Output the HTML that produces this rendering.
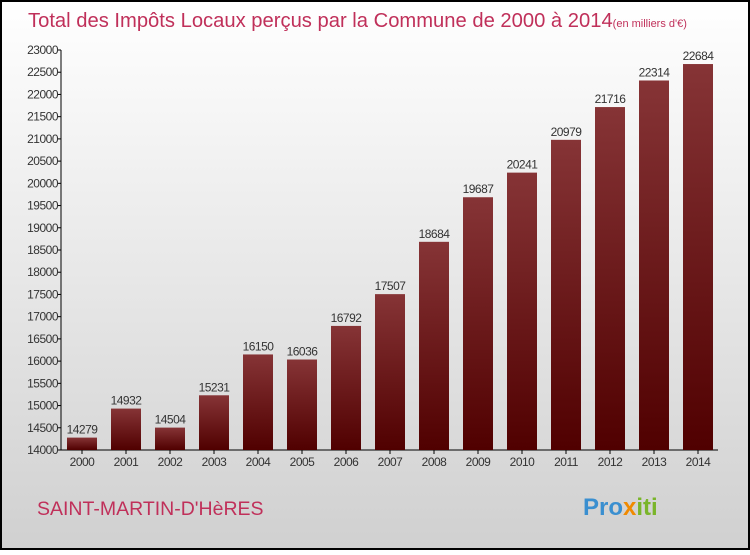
<!DOCTYPE html>
<html><head><meta charset="utf-8"><style>
html,body{margin:0;padding:0}
body{width:750px;height:550px;overflow:hidden;font-family:"Liberation Sans",sans-serif}
</style></head><body>
<svg width="750" height="550" xmlns="http://www.w3.org/2000/svg">
<defs>
<linearGradient id="bg" x1="0" y1="0" x2="0" y2="1"><stop offset="0" stop-color="#ffffff"/><stop offset="1" stop-color="#d0d0d0"/></linearGradient>
<linearGradient id="bar" x1="0" y1="0" x2="0" y2="1"><stop offset="0" stop-color="#863436"/><stop offset="1" stop-color="#500000"/></linearGradient>
</defs>
<rect x="1" y="1" width="748" height="548" fill="url(#bg)" stroke="#000" stroke-width="2"/>
<text x="28" y="27" font-size="20.2" fill="#c0305a">Total des Impôts Locaux perçus par la Commune de 2000 à 2014<tspan font-size="11">(en milliers d'€)</tspan></text>
<g id="axes"></g>
<g id="bars"></g>
<text x="37" y="515" font-size="19.5" fill="#c0305a">SAINT-MARTIN-D'HèRES</text>
<text x="583" y="515" font-size="24" font-weight="bold" fill="#3a8fd0">Pro<tspan fill="#f08a00">x</tspan><tspan fill="#7ab52a">iti</tspan></text>
</svg>
<script>
const years=[2000,2001,2002,2003,2004,2005,2006,2007,2008,2009,2010,2011,2012,2013,2014];
const values=[14279,14932,14504,15231,16150,16036,16792,17507,18684,19687,20241,20979,21716,22314,22684];
const ticks=[14000,14500,15000,15500,16000,16500,17000,17500,18000,18500,19000,19500,20000,20500,21000,21500,22000,22500,23000];
const NS="http://www.w3.org/2000/svg";
const yMin=14000,yMax=23000,y0=450,y1=50;
function y(v){return y0-(v-yMin)/(yMax-yMin)*(y0-y1);}
function x(i){return 82+44*i;}
const ax=document.getElementById('axes'),bg=document.getElementById('bars');
function mk(t,a,p){const e=document.createElementNS(NS,t);for(const k in a)e.setAttribute(k,a[k]);p.appendChild(e);return e;}
let l=mk('line',{x1:61,y1:y1,x2:61,y2:y0,stroke:'#000'},ax);


l=mk('line',{x1:61,y1:y0,x2:718,y2:y0,stroke:'#000'},ax);


ticks.forEach(t=>{
 const tk=mk('line',{x1:58,x2:61,y1:y(t),y2:y(t),stroke:'#000'},ax);
 
 
 const tx=mk('text',{x:58,y:y(t)+4,'font-size':12,'text-anchor':'end',fill:'#333','letter-spacing':'-0.5'},ax);
 tx.textContent=t;
 
 
});
years.forEach((yr,i)=>{
 const r=mk('rect',{x:x(i)-15,y:y(values[i]),width:30,height:y0-y(values[i]),fill:'url(#bar)'},bg);
 
 
 const v=mk('text',{x:x(i),y:y(values[i])-4,'font-size':12,'text-anchor':'middle',fill:'#333','letter-spacing':'-0.5'},bg);
 v.textContent=values[i];
 
 
 const tk=mk('line',{x1:x(i),x2:x(i),y1:y0,y2:y0+4,stroke:'#000'},ax);
 
 
 const tx=mk('text',{x:x(i),y:y0+16,'font-size':12,'text-anchor':'middle',fill:'#333','letter-spacing':'-0.5'},ax);
 tx.textContent=yr;
 
 
});
</script>
</body></html>
